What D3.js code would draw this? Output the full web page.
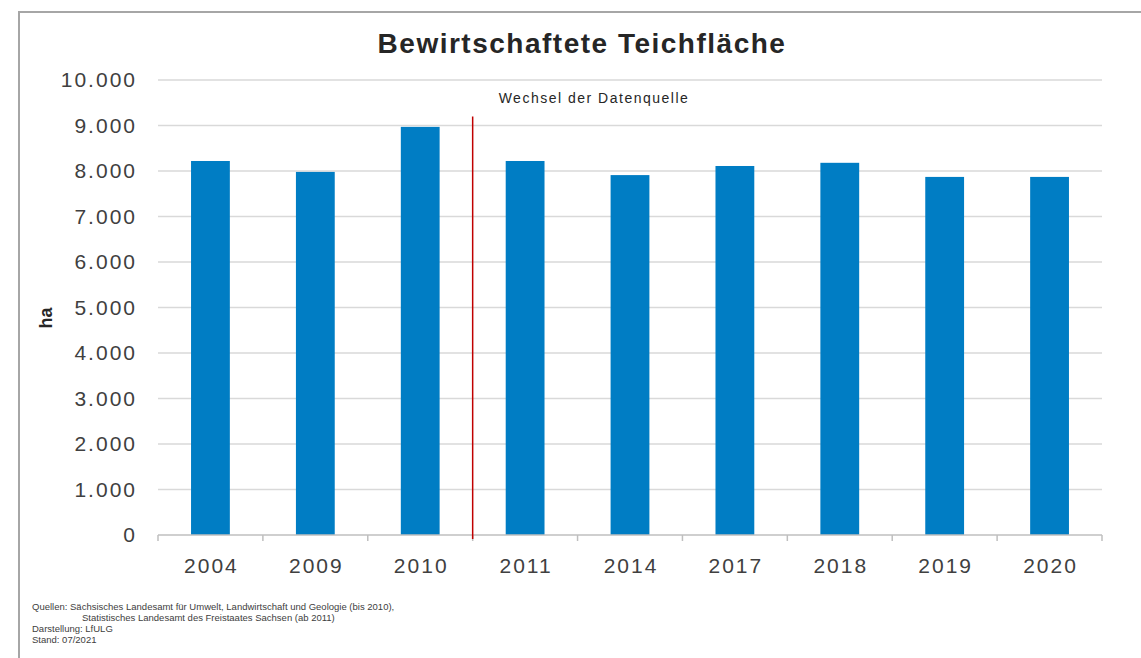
<!DOCTYPE html>
<html>
<head>
<meta charset="utf-8">
<script src="https://cdn.jsdelivr.net/npm/d3@7"></script>
<style>
	body { margin: 0; background: #fff; }
	text { font-family: Arial, "Liberation Sans", sans-serif; }
</style>
</head>
<body>
<svg id="chart"></svg>
<script>
var years = ['2004', '2009', '2010', '2011', '2014', '2017', '2018', '2019', '2020']
var areaHa = [8220, 7980, 8970, 8220, 7910, 8110, 8180, 7870, 7870]
var yTicks = [0, 1000, 2000, 3000, 4000, 5000, 6000, 7000, 8000, 9000, 10000]
var breakAfter = '2010'
var footLines = [
	'Quellen: Sächsisches Landesamt für Umwelt, Landwirtschaft und Geologie (bis 2010),',
	'Statistisches Landesamt des Freistaates Sachsen (ab 2011)',
	'Darstellung: LfULG',
	'Stand: 07/2021'
]

var data = years.map((y, i) => ({ year: y, value: areaHa[i] }))

buildBars(data)

function buildBars(data) {
	var dim = {
		width: 1141,
		height: 658,
		margin: { top: 80, right: 39, bottom: 123, left: 158 }
	}
	var w = dim.width - dim.margin.left - dim.margin.right
	var h = dim.height - dim.margin.top - dim.margin.bottom

	var root = d3.select('#chart')
		.attr('width', dim.width)
		.attr('height', dim.height)

	// frame
	root.append('path')
		.attr('d', 'M19,658 L19,12 L1141,12')
		.attr('fill', 'none')
		.attr('stroke', '#a6a6a6')
		.attr('stroke-width', 2)

	root.append('text')
		.attr('x', 582)
		.attr('y', 53)
		.attr('text-anchor', 'middle')
		.attr('font-size', 28)
		.attr('font-weight', 'bold')
		.attr('letter-spacing', 1.5)
		.attr('fill', '#262626')
		.text('Bewirtschaftete Teichfläche')

	var svg = root.append('g')
		.attr('transform', 'translate(' + dim.margin.left + ',' + dim.margin.top + ')')

	var x = d3.scaleBand()
		.domain(years)
		.range([0, w])
		.paddingInner(0.63)
		.paddingOuter(0.315)

	var y = d3.scaleLinear()
		.domain([0, 10000])
		.range([h, 0])

	// gridlines
	svg.append('g')
		.selectAll('line')
		.data(yTicks.slice(1))
		.enter()
		.append('line')
			.attr('x1', 0)
			.attr('x2', w)
			.attr('y1', d => y(d))
			.attr('y2', d => y(d))
			.attr('stroke', '#d9d9d9')
			.attr('stroke-width', 1.5)

	// y labels
	var yAxis = svg.append('g')
		.call(d3.axisLeft(y).tickValues(yTicks).tickSize(0).tickPadding(21)
			.tickFormat(d => d3.format(',')(d).replace(/,/g, '.')))
	yAxis.select('.domain').remove()
	yAxis.selectAll('text')
		.attr('font-size', 21)
		.attr('letter-spacing', 2)
		.attr('fill', '#404040')

	svg.selectAll('rect')
		.data(data)
		.enter()
		.append('rect')
			.attr('x', d => x(d.year))
			.attr('y', d => y(d.value))
			.attr('width', x.bandwidth())
			.attr('height', d => h - y(d.value))
			.attr('fill', '#007dc4')

	// x axis with ticks between categories
	var step = x.step()
	var bounds = d3.range(years.length + 1).map(i => i * step)
	svg.append('line')
		.attr('x1', 0).attr('x2', w)
		.attr('y1', h).attr('y2', h)
		.attr('stroke', '#bfbfbf')
		.attr('stroke-width', 1.5)
	svg.append('g')
		.selectAll('line')
		.data(bounds)
		.enter()
		.append('line')
			.attr('x1', d => d).attr('x2', d => d)
			.attr('y1', h).attr('y2', h + 6)
			.attr('stroke', '#bfbfbf')
			.attr('stroke-width', 1.5)
	svg.append('g')
		.selectAll('text')
		.data(years)
		.enter()
		.append('text')
			.attr('x', d => x(d) + x.bandwidth() / 2 + 1)
			.attr('y', h + 38)
			.attr('text-anchor', 'middle')
			.attr('font-size', 21)
			.attr('letter-spacing', 2)
			.attr('fill', '#404040')
			.text(d => d)

	// data source change marker
	var bx = x(breakAfter) + x.bandwidth() + (step - x.bandwidth()) / 2
	svg.append('line')
		.attr('x1', bx).attr('x2', bx)
		.attr('y1', y(9200)).attr('y2', h + 4)
		.attr('stroke', '#c00000')
		.attr('stroke-width', 1.5)
	svg.append('text')
		.attr('x', bx + 26)
		.attr('y', y(9500))
		.attr('font-size', 14)
		.attr('letter-spacing', 1.5)
		.attr('fill', '#262626')
		.text('Wechsel der Datenquelle')

	root.append('text')
		.attr('transform', 'translate(52,318) rotate(-90)')
		.attr('text-anchor', 'middle')
		.attr('font-size', 18)
		.attr('font-weight', 'bold')
		.attr('fill', '#262626')
		.text('ha')

	root.append('g')
		.selectAll('text')
		.data(footLines)
		.enter()
		.append('text')
			.attr('x', (d, i) => i == 1 ? 82 : 32)
			.attr('y', (d, i) => 610 + i * 11)
			.attr('font-size', 9.5)
			.attr('fill', '#404040')
			.text(d => d)
}
</script>
</body>
</html>
